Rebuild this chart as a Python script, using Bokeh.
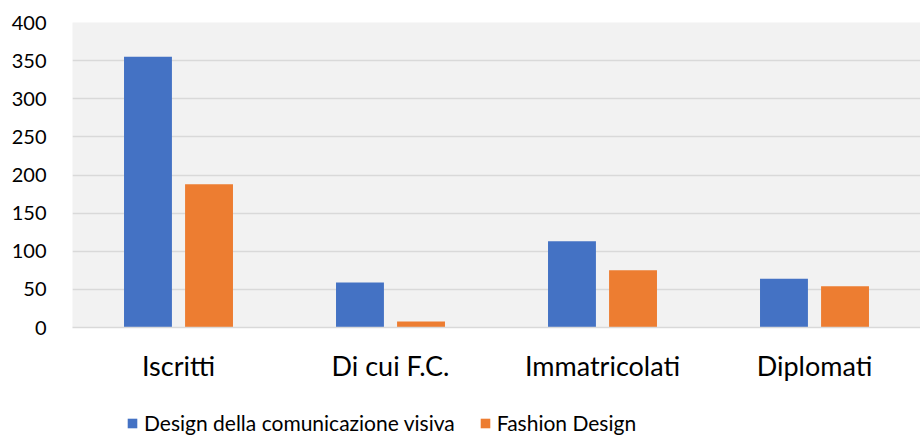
from bokeh.plotting import figure
from bokeh.layouts import column
from bokeh.models import FactorRange, Range1d, Legend, LegendItem, ColumnDataSource, SingleIntervalTicker
from bokeh.transform import dodge
from bokeh.embed import file_html
from bokeh.resources import INLINE

categories = ["Iscritti", "Di cui F.C.", "Immatricolati", "Diplomati"]
series_names = ["Design della comunicazione visiva", "Fashion Design"]
design_comunicazione = [355, 59, 113, 64]
fashion_design = [188, 8, 75, 54]

FONT = "Lato"
BLUE = "#4472C4"
ORANGE = "#ED7D31"

src = ColumnDataSource(dict(cat=categories, a=design_comunicazione, b=fashion_design))

p = figure(
    x_range=FactorRange(*categories, range_padding=0),
    y_range=Range1d(0, 400),
    width=920, height=407,
    output_backend="svg", toolbar_location=None,
    min_border_left=72, min_border_right=0, min_border_top=22, min_border_bottom=80,
    background_fill_color="#f2f2f2", border_fill_color="white",
)
p.outline_line_color = None

r1 = p.vbar(x=dodge("cat", -0.144, range=p.x_range), top="a", width=0.226, source=src,
            fill_color=BLUE, line_color=None)
r2 = p.vbar(x=dodge("cat", 0.144, range=p.x_range), top="b", width=0.226, source=src,
            fill_color=ORANGE, line_color=None)

p.yaxis.ticker = SingleIntervalTicker(interval=50)
p.yaxis.axis_line_color = None
p.yaxis.major_tick_line_color = None
p.yaxis.minor_tick_line_color = None
p.yaxis.major_tick_out = 0
p.yaxis.major_label_standoff = 22
p.yaxis.major_label_text_font = FONT
p.yaxis.major_label_text_font_size = "20px"
p.yaxis.major_label_text_color = "#000000"

p.xaxis.axis_line_color = "#d9d9d9"
p.xaxis.axis_line_width = 1.5
p.xaxis.major_tick_line_color = None
p.xaxis.minor_tick_line_color = None
p.xaxis.major_tick_out = 0
p.xaxis.major_label_standoff = 21
p.xaxis.major_label_text_font = FONT
p.xaxis.major_label_text_font_size = "27px"
p.xaxis.major_label_text_color = "#000000"

p.xgrid.grid_line_color = None
p.ygrid.grid_line_color = "#d9d9d9"
p.ygrid.grid_line_width = 1.5

# legend strip below the chart; its key renderers use the same data but lie outside its view
lg = figure(
    width=920, height=30, x_range=Range1d(0, 1), y_range=Range1d(0, 1),
    output_backend="svg", toolbar_location=None,
    x_axis_type=None, y_axis_type=None,
    min_border_left=72, min_border_right=0, min_border_top=0, min_border_bottom=0,
    background_fill_color="white", border_fill_color="white",
)
lg.outline_line_color = None
lg.grid.grid_line_color = None
k1 = lg.vbar(x="a", top="a", width=0.1, source=src, fill_color=BLUE, line_color=None)
k2 = lg.vbar(x="b", top="b", width=0.1, source=src, fill_color=ORANGE, line_color=None)

legend = Legend(
    items=[LegendItem(label=series_names[0], renderers=[k1]),
           LegendItem(label=series_names[1], renderers=[k2])],
    orientation="horizontal", location=(54, 2),
    label_text_font=FONT, label_text_font_size="21px", label_text_color="#000000",
    glyph_width=12, glyph_height=12, label_standoff=6, spacing=24,
    padding=0, margin=0, border_line_color=None, background_fill_alpha=0,
)
lg.add_layout(legend, "center")

layout = column(p, lg, spacing=0)
open("out.html", "w").write(file_html(layout, INLINE))
